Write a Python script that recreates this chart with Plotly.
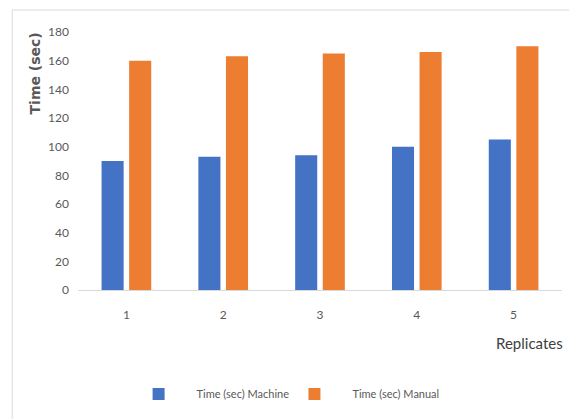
import plotly.graph_objects as go

replicates = ["1", "2", "3", "4", "5"]
machine = [90, 93, 94, 100, 105]
manual = [160, 163, 165, 166, 170]
y_ticks = [0, 20, 40, 60, 80, 100, 120, 140, 160, 180]

NARROW = "Lato, Liberation Sans Narrow, sans-serif"

fig = go.Figure()
fig.add_trace(go.Bar(x=replicates, y=machine, name="Time (sec) Machine",
                     marker=dict(color="#4472C4", line=dict(width=0)), legend="legend"))
fig.add_trace(go.Bar(x=replicates, y=manual, name="Time (sec) Manual",
                     marker=dict(color="#ED7D31", line=dict(width=0)), legend="legend2"))

leg_common = dict(orientation="h", xanchor="left", y=-0.403, yanchor="middle",
                  font=dict(family=NARROW, size=11, color="#595959"),
                  itemwidth=66, bgcolor="rgba(0,0,0,0)")

fig.update_layout(
    width=569, height=419,
    margin=dict(l=78, r=7, t=32, b=129),
    paper_bgcolor="white", plot_bgcolor="white",
    barmode="group", bargap=0.43, bargroupgap=0.2,
    font=dict(family=NARROW, color="#595959", size=12),
    showlegend=True,
    legend=dict(x=0.088, **leg_common),
    legend2=dict(x=0.410, **leg_common),
    xaxis=dict(type="category", range=[-0.5, 4.5], showgrid=False,
               showline=True, linecolor="#D9D9D9", linewidth=1,
               ticks="", ticklabelstandoff=14,
               tickfont=dict(family=NARROW, size=12, color="#595959")),
    yaxis=dict(range=[0, 180], tickvals=y_ticks, showgrid=False, zeroline=False,
               showline=False, ticks="", ticklabelstandoff=8,
               tickfont=dict(family=NARROW, size=12, color="#595959")),
    shapes=[dict(type="rect", xref="paper", yref="paper",
                 x0=-0.136, x1=1.2, y0=-0.7, y1=1.085,
                 line=dict(color="#D9D9D9", width=1), layer="below")],
    annotations=[
        dict(text="<b>Time (sec)</b>", xref="paper", yref="paper",
             x=-0.089, y=0.839, textangle=-90, showarrow=False,
             xanchor="center", yanchor="middle",
             font=dict(family="DejaVu Sans, sans-serif", size=14, color="#595959")),
        dict(text="Replicates", xref="paper", yref="paper",
             x=0.932, y=-0.205, showarrow=False, xanchor="center", yanchor="middle",
             font=dict(family=NARROW, size=15, color="#404040")),
    ],
)

fig.write_html("out.html", config={"displayModeBar": False},
               post_script="document.body.style.margin='0';document.body.style.overflow='hidden';")
